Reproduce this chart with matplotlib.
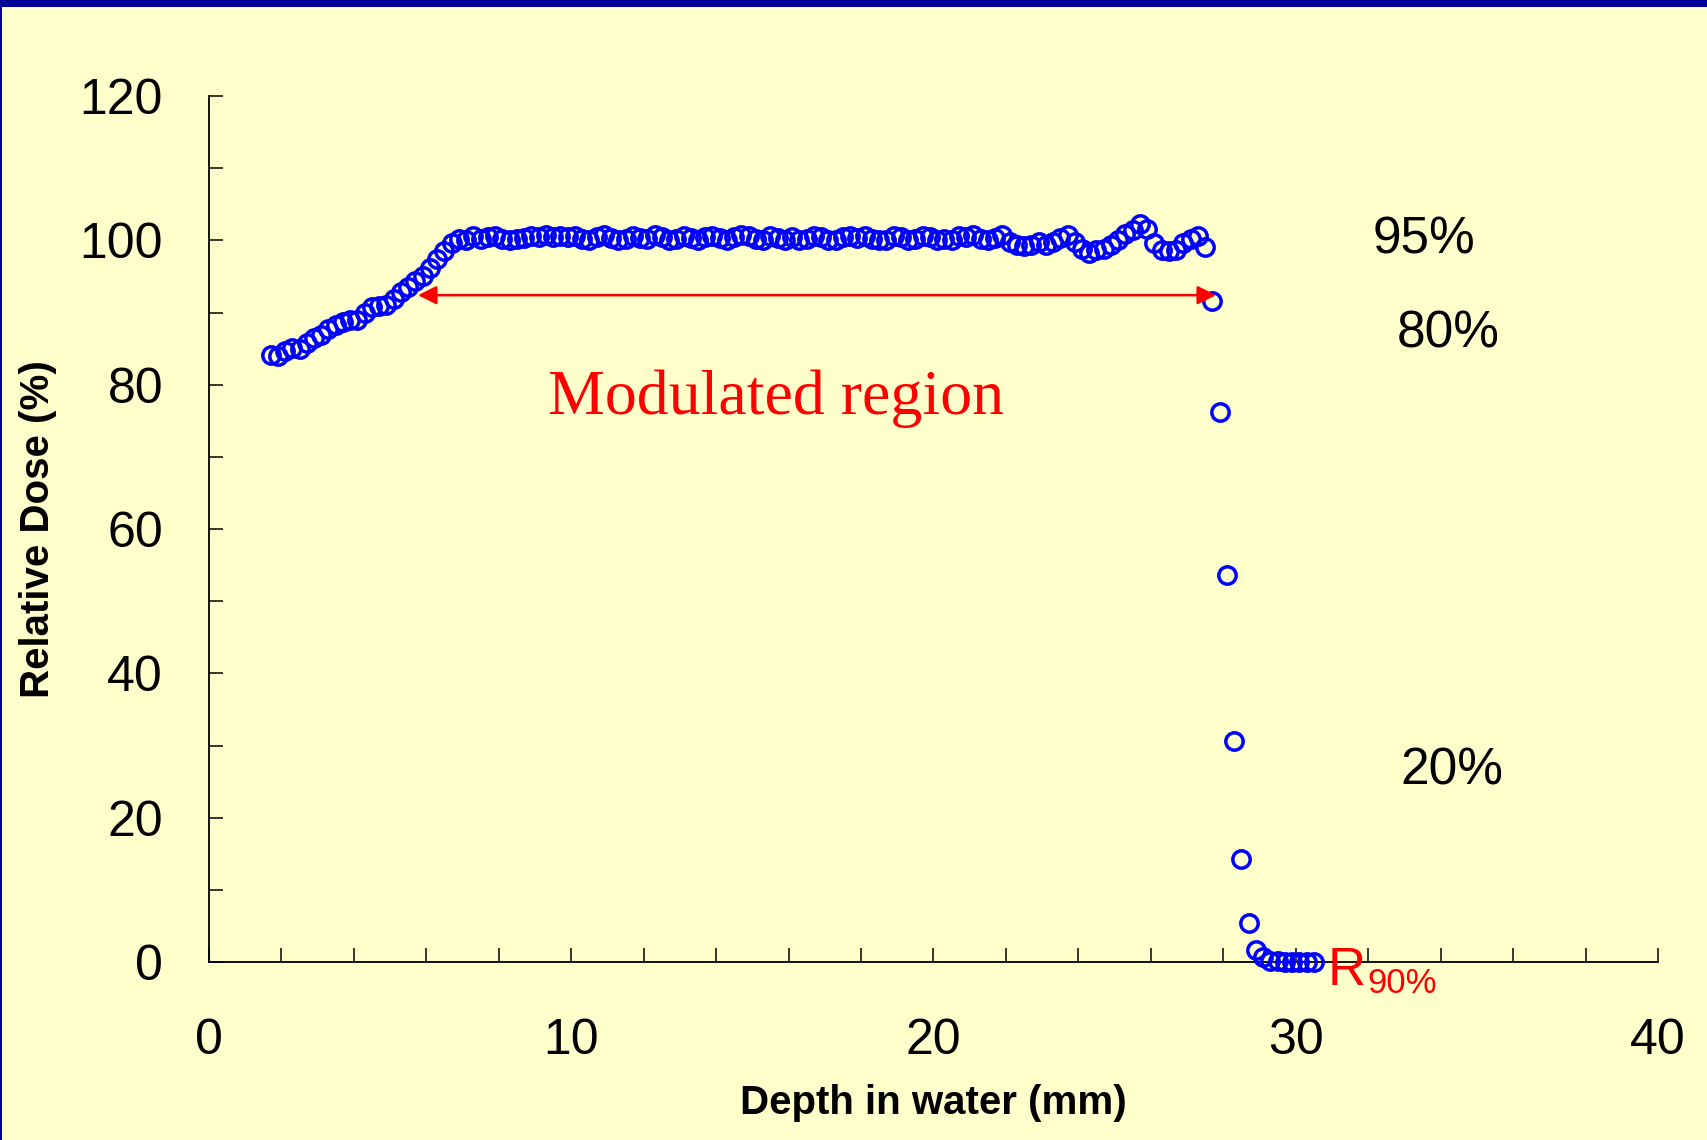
import matplotlib
matplotlib.use('Agg')
import matplotlib.pyplot as plt
from matplotlib.patches import Rectangle
from matplotlib.ticker import MultipleLocator

# ── Data ──────────────────────────────────────────────────────────────────────
depth_mm = [
    1.7, 1.9, 2.1, 2.3, 2.5, 2.7, 2.9, 3.1, 3.3, 3.5, 3.7, 3.9, 4.1, 4.3, 4.5,
    4.7, 4.9, 5.1, 5.3, 5.5, 5.7, 5.9, 6.1, 6.3, 6.5, 6.7, 6.9, 7.1, 7.3, 7.5,
    7.7, 7.9, 8.1, 8.3, 8.5, 8.7, 8.9, 9.1, 9.3, 9.5, 9.7, 9.9, 10.1, 10.3, 10.5,
    10.7, 10.9, 11.1, 11.3, 11.5, 11.7, 11.9, 12.1, 12.3, 12.5, 12.7, 12.9, 13.1, 13.3, 13.5,
    13.7, 13.9, 14.1, 14.3, 14.5, 14.7, 14.9, 15.1, 15.3, 15.5, 15.7, 15.9, 16.1, 16.3, 16.5,
    16.7, 16.9, 17.1, 17.3, 17.5, 17.7, 17.9, 18.1, 18.3, 18.5, 18.7, 18.9, 19.1, 19.3, 19.5,
    19.7, 19.9, 20.1, 20.3, 20.5, 20.7, 20.9, 21.1, 21.3, 21.5, 21.7, 21.9, 22.1, 22.3, 22.5,
    22.7, 22.9, 23.1, 23.3, 23.5, 23.7, 23.9, 24.1, 24.3, 24.5, 24.7, 24.9, 25.1, 25.3, 25.5,
    25.7, 25.9, 26.1, 26.3, 26.5, 26.7, 26.9, 27.1, 27.3, 27.5, 27.7, 27.9, 28.1, 28.3, 28.5,
    28.7, 28.9, 29.1, 29.3, 29.5, 29.7, 29.9, 30.1, 30.3, 30.5,
]
dose_pct = [
    84.1, 84.0, 84.6, 85.1, 84.9, 85.8, 86.4, 86.9, 87.7, 88.3, 88.7, 88.9, 89.0, 89.9, 90.7,
    90.9, 91.0, 91.9, 92.8, 93.5, 94.4, 95.1, 96.2, 97.4, 98.5, 99.6, 100.2, 100.1, 100.6, 100.2,
    100.5, 100.6, 100.2, 100.1, 100.2, 100.3, 100.6, 100.5, 100.7, 100.5, 100.6, 100.5, 100.6, 100.2, 100.0,
    100.5, 100.7, 100.3, 100.1, 100.2, 100.6, 100.3, 100.2, 100.7, 100.4, 100.0, 100.2, 100.6, 100.3, 100.1,
    100.5, 100.6, 100.3, 100.0, 100.4, 100.7, 100.6, 100.2, 100.1, 100.6, 100.3, 100.1, 100.4, 100.0, 100.2,
    100.6, 100.5, 100.1, 100.0, 100.5, 100.6, 100.3, 100.6, 100.2, 100.0, 100.1, 100.6, 100.5, 100.1, 100.2,
    100.6, 100.5, 100.0, 100.2, 100.1, 100.6, 100.5, 100.7, 100.2, 100.1, 100.3, 100.8, 99.7, 99.3, 99.2,
    99.3, 99.8, 99.4, 99.8, 100.3, 100.8, 99.8, 98.8, 98.2, 98.6, 98.8, 99.3, 100.1, 100.9, 101.5,
    102.2, 101.6, 99.6, 98.7, 98.5, 98.7, 99.6, 100.2, 100.6, 99.1, 91.6, 76.2, 53.6, 30.6, 14.3,
    5.4, 1.7, 0.7, 0.2, 0.1, 0.0, 0.0, 0.0, 0.0, 0.0,
]

x_ticks   = [0, 10, 20, 30, 40]
y_ticks   = [0, 20, 40, 60, 80, 100, 120]
level_lbl = ['95%', '80%', '20%']
level_pos = [(33.55, 100.1), (34.2, 87.0), (34.3, 26.5)]
mod_start, mod_end, mod_level = 5.77, 27.8, 92.4

# ── Style ─────────────────────────────────────────────────────────────────────
BG     = '#FFFFCC'
NAVY   = '#000099'
SANS   = 'Liberation Sans'
SERIF  = 'Liberation Serif'

fig = plt.figure(figsize=(17.07, 11.40), dpi=100)
fig.patch.set_facecolor(BG)
# slide frame: navy bar on top, thin line on the left
fig.patches.append(Rectangle((0, 1 - 7 / 1140), 1, 7 / 1140, transform=fig.transFigure,
                             facecolor=NAVY, edgecolor='none'))
fig.patches.append(Rectangle((0, 0), 2 / 1707, 1, transform=fig.transFigure,
                             facecolor=NAVY, edgecolor='none'))

ax = fig.add_axes([0.1224, 0.1561, 0.8489, 0.7597])
ax.set_facecolor(BG)

ax.plot(depth_mm, dose_pct, linestyle='none', marker='o', markersize=12.5,
        markerfacecolor='none', markeredgecolor='#0000FF', markeredgewidth=2.5,
        clip_on=False, zorder=3)

ax.set_xlim(0, 40)
ax.set_ylim(0, 120)
ax.set_xticks(x_ticks)
ax.set_yticks(y_ticks)
ax.xaxis.set_minor_locator(MultipleLocator(2))
ax.yaxis.set_minor_locator(MultipleLocator(10))

for s in ['top', 'right']:
    ax.spines[s].set_visible(False)
for s in ['left', 'bottom']:
    ax.spines[s].set_linewidth(1.3)
    ax.spines[s].set_color('black')

ax.tick_params(which='both', direction='in', length=10, width=1.1, color='black')
ax.tick_params(axis='y', which='major', pad=33)
ax.tick_params(axis='x', which='major', pad=40)
for lbl in ax.get_xticklabels() + ax.get_yticklabels():
    lbl.set_fontfamily(SANS)
    lbl.set_fontsize(36)

ax.set_xlabel('Depth in water (mm)', fontfamily=SANS, fontsize=29, fontweight='bold', labelpad=15)
ax.set_ylabel('Relative Dose (%)', fontfamily=SANS, fontsize=29, fontweight='bold', labelpad=16)

# ── Annotations ───────────────────────────────────────────────────────────────
ax.annotate('', xy=(mod_start, mod_level), xytext=(mod_end, mod_level),
            arrowprops=dict(arrowstyle='<|-|>', color='red', lw=1.8,
                            mutation_scale=28, shrinkA=0, shrinkB=0))
ax.text(15.65, 75.9, 'Modulated region', color='red', fontfamily=SERIF,
        fontsize=46, ha='center', va='baseline')

for lbl, (px, py) in zip(level_lbl, level_pos):
    ax.text(px, py, lbl, fontfamily=SANS, fontsize=37, ha='center', va='center')

ax.text(30.89, -3.2, 'R', color='red', fontfamily=SANS, fontsize=38,
        ha='left', va='baseline', clip_on=False)
ax.text(31.97, -4.3, '90%', color='red', fontfamily=SANS, fontsize=25,
        ha='left', va='baseline', clip_on=False)

plt.savefig('out.png', dpi=100, facecolor=BG)
plt.close()
